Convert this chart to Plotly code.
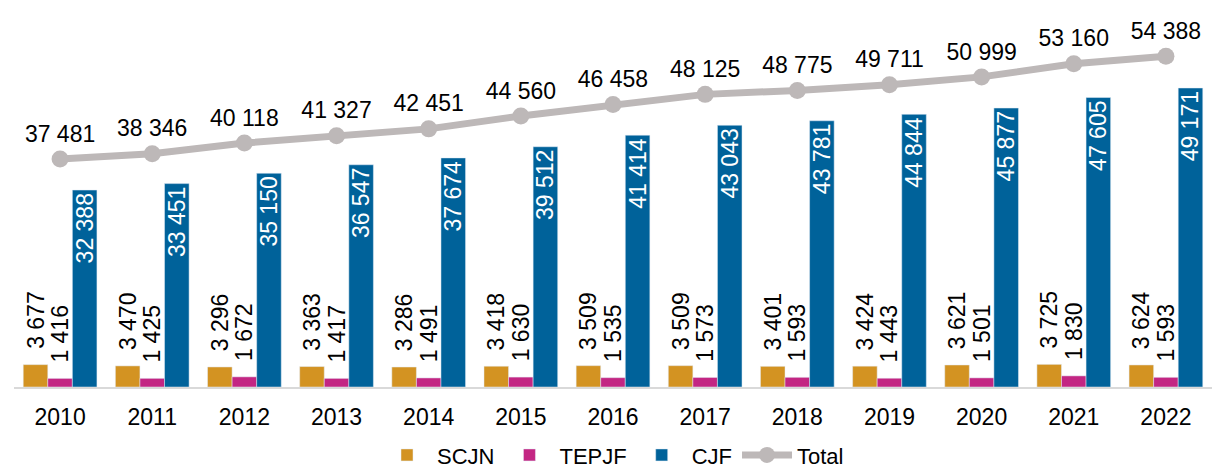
import plotly.graph_objects as go

years = ["2010", "2011", "2012", "2013", "2014", "2015", "2016",
         "2017", "2018", "2019", "2020", "2021", "2022"]
scjn = [3677, 3470, 3296, 3363, 3286, 3418, 3509, 3509, 3401, 3424, 3621, 3725, 3624]
tepjf = [1416, 1425, 1672, 1417, 1491, 1630, 1535, 1573, 1593, 1443, 1501, 1830, 1593]
cjf = [32388, 33451, 35150, 36547, 37674, 39512, 41414, 43043, 43781, 44844, 45877, 47605, 49171]
total = [37481, 38346, 40118, 41327, 42451, 44560, 46458, 48125, 48775, 49711, 50999, 53160, 54388]

FONT = "Liberation Sans, Arial, sans-serif"
NB = "\u00a0"


def fmt(v):
    return f"{v:,}".replace(",", " ")


fig = go.Figure()

fig.add_trace(go.Bar(
    name="SCJN", x=years, y=scjn,
    marker=dict(color="#D39322"),
    text=[NB * 2 + fmt(v) for v in scjn],
    textposition="outside", textangle=-90, constraintext="none",
    textfont=dict(family=FONT, size=23, color="#000000"),
    cliponaxis=False,
))
fig.add_trace(go.Bar(
    name="TEPJF", x=years, y=tepjf,
    marker=dict(color="#C32683"),
    text=[NB * 2 + fmt(v) for v in tepjf],
    textposition="outside", textangle=-90, constraintext="none",
    textfont=dict(family=FONT, size=23, color="#000000"),
    cliponaxis=False,
))
fig.add_trace(go.Bar(
    name="CJF", x=years, y=cjf,
    marker=dict(color="#00629A"),
    text=[fmt(v) for v in cjf],
    textposition="inside", insidetextanchor="end", textangle=-90,
    constraintext="none",
    insidetextfont=dict(family=FONT, size=23, color="#FFFFFF"),
))
fig.add_trace(go.Scatter(
    name="Total", x=years, y=total,
    mode="lines+markers+text",
    line=dict(color="#BDB8B8", width=7),
    marker=dict(color="#BDB8B8", size=17),
    text=[fmt(v) for v in total],
    textposition="top center",
    textfont=dict(family=FONT, size=23, color="#000000"),
    cliponaxis=False,
))

fig.update_layout(
    width=1212, height=472,
    margin=dict(l=14, r=0, t=10, b=85, autoexpand=False),
    paper_bgcolor="white", plot_bgcolor="white",
    barmode="group", bargap=0.2, bargroupgap=0,
    font=dict(family=FONT, size=22, color="#000000"),
    showlegend=True,
    legend=dict(orientation="h", x=0.5, xanchor="center", y=-0.125, yanchor="top",
                font=dict(family=FONT, size=22, color="#000000"),
                traceorder="normal", itemwidth=50),
    xaxis=dict(range=[-0.5, 12.5], autorange=False,
               showline=True, linecolor="#D9D9D9", linewidth=2, ticks="",
               showgrid=False, tickfont=dict(family=FONT, size=23, color="#000000"),
               ticklabelstandoff=8, automargin=False),
    yaxis=dict(range=[0, 62000], visible=False, showgrid=False, zeroline=False,
               automargin=False),
)

fig.write_html("out.html", config={"displayModeBar": False},
               post_script="document.body.style.margin='0';")
